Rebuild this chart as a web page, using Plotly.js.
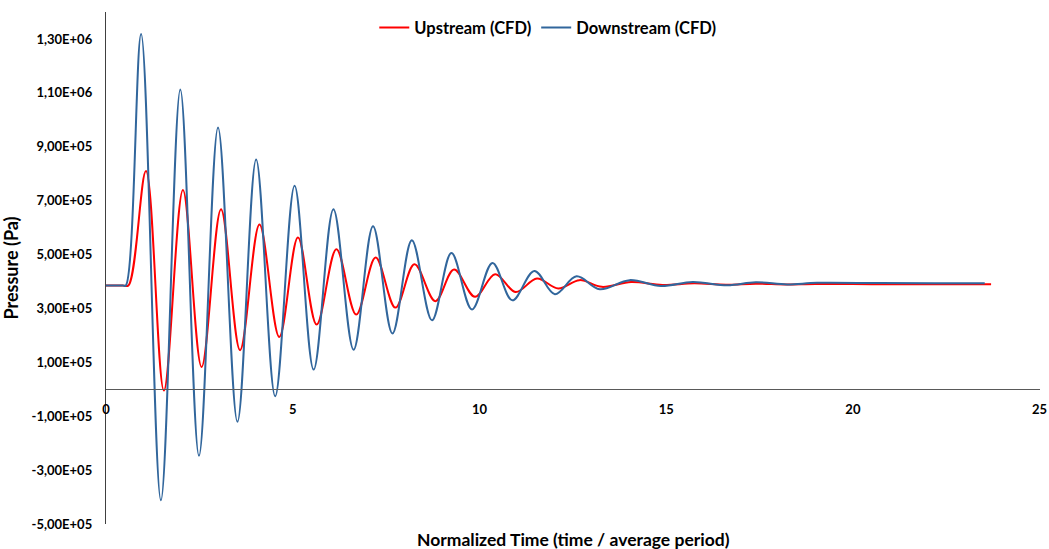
<!DOCTYPE html>
<html>
<head>
<meta charset="utf-8">
<script src="https://cdn.plot.ly/plotly-3.0.1.min.js"></script>
<style>html,body{margin:0;padding:0;background:#fff;}#chart{width:1049px;height:549px;}</style>
</head>
<body>
<div id="chart"></div>
<script>
// Upstream (CFD) — extrema
const upX = [0, 0.45, 0.6, 1.07, 1.55, 2.06, 2.56, 3.08, 3.59, 4.11, 4.64, 5.14, 5.64, 6.17, 6.70, 7.22, 7.75, 8.26, 8.82, 9.32, 9.88, 10.42, 10.97, 11.54, 12.11, 12.68, 13.28, 14.06, 14.9, 15.75, 16.6, 17.4, 18.2, 19.0, 20.5, 22.0, 23.7];
const upY = [3.85e5, 3.85e5, 3.85e5, 8.10e5, -5e3, 7.39e5, 8.3e4, 6.68e5, 1.45e5, 6.11e5, 1.94e5, 5.63e5, 2.40e5, 5.20e5, 2.77e5, 4.89e5, 3.03e5, 4.64e5, 3.27e5, 4.44e5, 3.43e5, 4.27e5, 3.61e5, 4.11e5, 3.74e5, 4.05e5, 3.80e5, 3.98e5, 3.87e5, 3.93e5, 3.88e5, 3.92e5, 3.89e5, 3.91e5, 3.90e5, 3.90e5, 3.90e5];
// Downstream (CFD)
const downX = [0, 0.45, 0.53, 0.94, 1.47, 1.99, 2.49, 3.0, 3.52, 4.02, 4.53, 5.05, 5.56, 6.09, 6.63, 7.15, 7.67, 8.19, 8.73, 9.25, 9.80, 10.35, 10.88, 11.47, 12.02, 12.6, 13.22, 14.02, 14.86, 15.71, 16.64, 17.4, 18.24, 19.04, 20.7, 22.2, 23.53];
const downY = [3.85e5, 3.85e5, 3.85e5, 1.318e6, -4.12e5, 1.112e6, -2.47e5, 9.71e5, -1.21e5, 8.53e5, -2.6e4, 7.55e5, 7.3e4, 6.68e5, 1.47e5, 6.05e5, 2.07e5, 5.53e5, 2.56e5, 5.06e5, 2.96e5, 4.69e5, 3.30e5, 4.39e5, 3.53e5, 4.19e5, 3.71e5, 4.05e5, 3.83e5, 3.98e5, 3.86e5, 3.97e5, 3.89e5, 3.95e5, 3.94e5, 3.93e5, 3.93e5];

const yTickVals = [-5e5, -3e5, -1e5, 1e5, 3e5, 5e5, 7e5, 9e5, 1.1e6, 1.3e6];
const yTickText = ["-5,00E+05", "-3,00E+05", "-1,00E+05", "1,00E+05", "3,00E+05", "5,00E+05", "7,00E+05", "9,00E+05", "1,10E+06", "1,30E+06"];
const xTickVals = [0, 5, 10, 15, 20, 25];

const FONT = "Lato, 'Open Sans', sans-serif";

const traces = [
  {x: upX, y: upY, type: 'scatter', mode: 'lines', name: 'Upstream (CFD)',
   line: {color: '#FF0000', width: 2, shape: 'spline', smoothing: 1}},
  {x: downX, y: downY, type: 'scatter', mode: 'lines', name: 'Downstream (CFD)',
   line: {color: '#31669C', width: 2, shape: 'spline', smoothing: 1}}
];

const layout = {
  width: 1049, height: 549,
  margin: {l: 106, r: 9, t: 12, b: 25},
  paper_bgcolor: '#fff', plot_bgcolor: '#fff',
  font: {family: FONT, color: '#000'},
  showlegend: true,
  legend: {orientation: 'h', x: 0.473, xanchor: 'center', y: 0.969, yanchor: 'middle',
    font: {family: FONT, size: 16.5, color: '#000', weight: 'bold'}, itemwidth: 30, bgcolor: 'rgba(0,0,0,0)'},
  xaxis: {range: [0, 25.01], anchor: 'free', position: 0.2637, showgrid: false, zeroline: false,
    showline: true, linecolor: '#595959', linewidth: 1.2, ticks: '', ticklabeloverflow: 'allow',
    tickvals: xTickVals, ticktext: xTickVals.map(String), ticklabelstandoff: 8,
    tickfont: {family: FONT, size: 13, color: '#000', weight: 'bold'}},
  yaxis: {range: [-5e5, 1.4e6], showgrid: false, zeroline: false, showline: true,
    linecolor: '#404040', linewidth: 1.2, ticks: '', tickvals: yTickVals, ticktext: yTickText,
    ticklabelstandoff: 10, tickfont: {family: FONT, size: 13, color: '#000', weight: 'bold'},
    title: {text: 'Pressure (Pa)', standoff: 9, font: {family: FONT, size: 18, color: '#000', weight: 'bold'}}},
  annotations: [{xref: 'paper', yref: 'paper', x: 0.5, y: -0.03, xanchor: 'center', yanchor: 'middle', showarrow: false,
    text: 'Normalized Time (time / average period)', font: {family: FONT, size: 17.5, color: '#000', weight: 'bold'}}]
};

Plotly.newPlot('chart', traces, layout, {displayModeBar: false, staticPlot: true});
</script>
</body>
</html>
